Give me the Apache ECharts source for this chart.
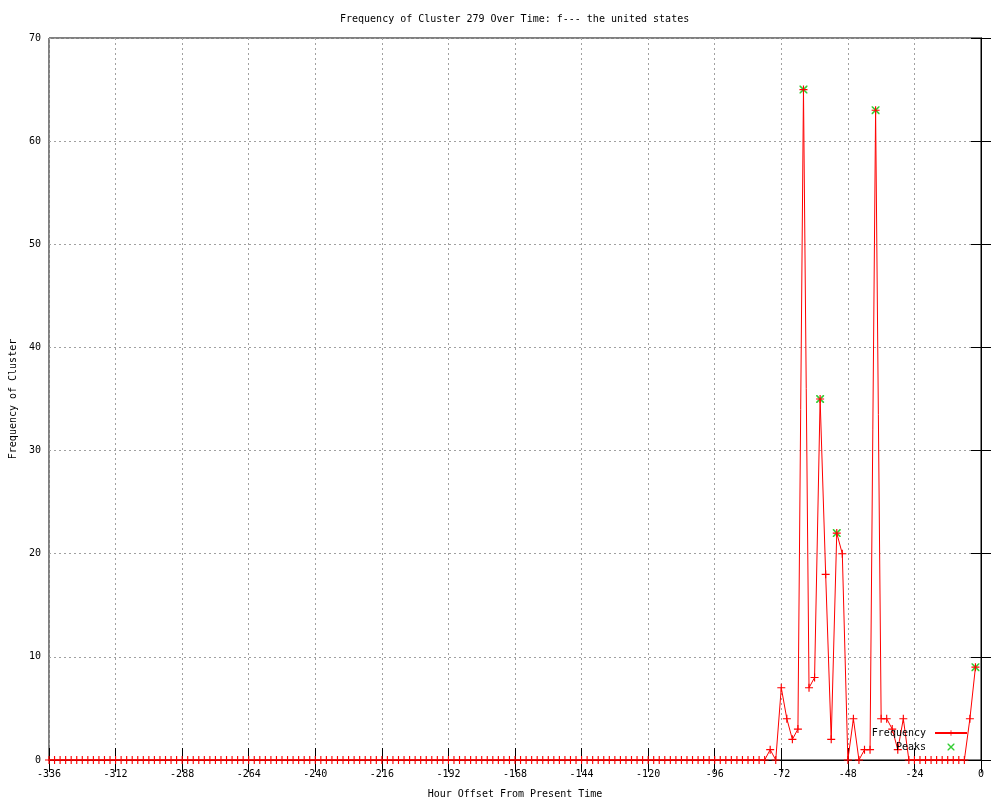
<!DOCTYPE html>
<html>
<head>
<meta charset="utf-8">
<script src="https://cdn.jsdelivr.net/npm/echarts@6/dist/echarts.min.js"></script>
<style>
  body { margin: 0; background: #fff; }
  #chart { width: 1000px; height: 800px; }
</style>
</head>
<body>
<div id="chart"></div>
<script>
// hour offsets, every 2 hours
const hours = [
  -336, -334, -332, -330, -328, -326, -324, -322, -320, -318, -316, -314,
  -312, -310, -308, -306, -304, -302, -300, -298, -296, -294, -292, -290,
  -288, -286, -284, -282, -280, -278, -276, -274, -272, -270, -268, -266,
  -264, -262, -260, -258, -256, -254, -252, -250, -248, -246, -244, -242,
  -240, -238, -236, -234, -232, -230, -228, -226, -224, -222, -220, -218,
  -216, -214, -212, -210, -208, -206, -204, -202, -200, -198, -196, -194,
  -192, -190, -188, -186, -184, -182, -180, -178, -176, -174, -172, -170,
  -168, -166, -164, -162, -160, -158, -156, -154, -152, -150, -148, -146,
  -144, -142, -140, -138, -136, -134, -132, -130, -128, -126, -124, -122,
  -120, -118, -116, -114, -112, -110, -108, -106, -104, -102, -100, -98,
  -96, -94, -92, -90, -88, -86, -84, -82, -80, -78, -76, -74,
  -72, -70, -68, -66, -64, -62, -60, -58, -56, -54, -52, -50,
  -48, -46, -44, -42, -40, -38, -36, -34, -32, -30, -28, -26,
  -24, -22, -20, -18, -16, -14, -12, -10, -8, -6, -4, -2
];
const frequency = [
  0, 0, 0, 0, 0, 0, 0, 0, 0, 0, 0, 0,
  0, 0, 0, 0, 0, 0, 0, 0, 0, 0, 0, 0,
  0, 0, 0, 0, 0, 0, 0, 0, 0, 0, 0, 0,
  0, 0, 0, 0, 0, 0, 0, 0, 0, 0, 0, 0,
  0, 0, 0, 0, 0, 0, 0, 0, 0, 0, 0, 0,
  0, 0, 0, 0, 0, 0, 0, 0, 0, 0, 0, 0,
  0, 0, 0, 0, 0, 0, 0, 0, 0, 0, 0, 0,
  0, 0, 0, 0, 0, 0, 0, 0, 0, 0, 0, 0,
  0, 0, 0, 0, 0, 0, 0, 0, 0, 0, 0, 0,
  0, 0, 0, 0, 0, 0, 0, 0, 0, 0, 0, 0,
  0, 0, 0, 0, 0, 0, 0, 0, 0, 0, 1, 0,
  7, 4, 2, 3, 65, 7, 8, 35, 18, 2, 22, 20,
  0, 4, 0, 1, 1, 63, 4, 4, 3, 1, 4, 0,
  0, 0, 0, 0, 0, 0, 0, 0, 0, 0, 4, 9
];
const peakHours = [-64, -58, -52, -38, -2];
const peakValues = [65, 35, 22, 63, 9];

const font = 'DejaVu Sans Mono';
const plusSymbol = 'path://M3,0H4V3H7V4H4V7H3V4H0V3H3Z';
const crossSymbol = 'path://M0,0L1,0L7,6L7,7L6,7L0,1Z M6,0L7,0L7,1L1,7L0,7L0,6Z';

const freqData = hours.map((h, i) => [h, frequency[i]]);
const peakData = peakHours.map((h, i) => [h, peakValues[i]]);

const chart = echarts.init(document.getElementById('chart'));

const gridLine = { show: true, lineStyle: { color: '#a0a0a0', width: 1, type: [2, 3] } };

chart.setOption({
  animation: false,
  backgroundColor: '#fff',
  textStyle: { fontFamily: font, fontSize: 10, color: '#000' },
  title: {
    text: 'Frequency of Cluster 279 Over Time: f--- the united states',
    left: 340,
    top: 14,
    padding: 0,
    textStyle: { fontFamily: font, fontSize: 10, fontWeight: 'normal', color: '#000' }
  },
  grid: {
    left: 49, right: 19, top: 38, bottom: 40,
    outerBoundsMode: 'none',
    containLabel: false,
    show: true, borderColor: '#000', borderWidth: 1, backgroundColor: 'transparent'
  },
  legend: {
    orient: 'vertical',
    right: 32,
    top: 728,
    padding: 0,
    align: 'right',
    itemWidth: 32,
    itemHeight: 7,
    itemGap: 4,
    textStyle: { fontFamily: font, fontSize: 10, color: '#000', padding: [0, 4, 0, 0] },
    data: ['Frequency', 'Peaks']
  },
  xAxis: [
    {
      type: 'value', min: -336, max: 0, interval: 24,
      name: 'Hour Offset From Present Time',
      nameLocation: 'middle', nameGap: 29,
      nameTextStyle: { fontFamily: font, fontSize: 10, color: '#000' },
      axisLine: { show: true, lineStyle: { color: '#000', width: 1 } },
      axisTick: { show: true, inside: true, length: 12, lineStyle: { color: '#000' } },
      axisLabel: { fontFamily: font, fontSize: 10, color: '#000', margin: 9 },
      splitLine: gridLine
    },
    {
      type: 'value', min: -336, max: 0, interval: 24, position: 'top',
      axisLine: { show: true, lineStyle: { color: '#000', width: 1 } },
      axisTick: { show: true, inside: true, length: 12, lineStyle: { color: '#000' } },
      axisLabel: { show: false },
      splitLine: { show: false }
    }
  ],
  yAxis: [
    {
      type: 'value', min: 0, max: 70, interval: 10,
      name: 'Frequency of Cluster',
      nameLocation: 'middle', nameGap: 30,
      nameTextStyle: { fontFamily: font, fontSize: 10, color: '#000' },
      axisLine: { show: true, lineStyle: { color: '#000', width: 1 } },
      axisTick: { show: true, inside: true, length: 10, lineStyle: { color: '#000' } },
      axisLabel: { fontFamily: font, fontSize: 10, color: '#000', margin: 8 },
      splitLine: gridLine
    },
    {
      type: 'value', min: 0, max: 70, interval: 10, position: 'right',
      axisLine: { show: true, lineStyle: { color: '#000', width: 1 } },
      axisTick: { show: true, inside: true, length: 10, lineStyle: { color: '#000' } },
      axisLabel: { show: false },
      splitLine: { show: false }
    }
  ],
  series: [
    {
      name: 'Peaks',
      type: 'scatter',
      xAxisIndex: 0, yAxisIndex: 0,
      symbol: crossSymbol,
      symbolSize: 8,
      itemStyle: { color: '#00c000' },
      clip: false,
      z: 2,
      data: peakData
    },
    {
      name: 'Frequency',
      type: 'line',
      xAxisIndex: 0, yAxisIndex: 0,
      symbol: plusSymbol,
      symbolSize: 8,
      showAllSymbol: true,
      clip: false,
      itemStyle: { color: '#ff0000' },
      lineStyle: { color: '#ff0000', width: 1 },
      z: 3,
      data: freqData
    }
  ]
});
</script>
</body>
</html>
